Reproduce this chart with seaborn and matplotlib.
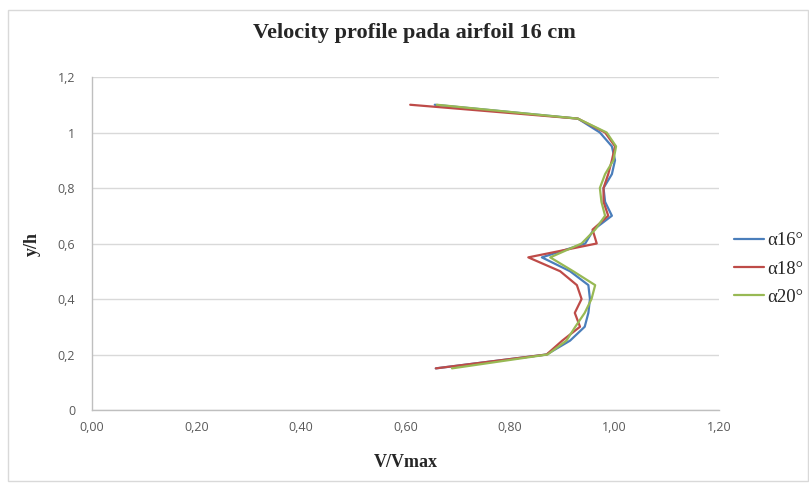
import matplotlib
matplotlib.use('Agg')
import matplotlib.pyplot as plt
from matplotlib.patches import Rectangle
from matplotlib.ticker import FuncFormatter
import seaborn as sns
import pandas as pd

# y/h positions of the measurement points
y_h = [0.15, 0.20, 0.25, 0.30, 0.35, 0.40, 0.45, 0.50, 0.55, 0.60, 0.65,
       0.70, 0.75, 0.80, 0.85, 0.90, 0.95, 1.00, 1.05, 1.10]

# V/Vmax for each angle of attack
v_a16 = [0.658, 0.870, 0.915, 0.943, 0.950, 0.953, 0.950, 0.915, 0.861, 0.944, 0.960,
         0.995, 0.982, 0.979, 0.995, 1.001, 0.995, 0.972, 0.930, 0.656]
v_a18 = [0.658, 0.870, 0.900, 0.934, 0.924, 0.937, 0.928, 0.896, 0.835, 0.966, 0.958,
         0.988, 0.979, 0.979, 0.988, 0.995, 1.001, 0.982, 0.930, 0.609]
v_a20 = [0.689, 0.872, 0.908, 0.925, 0.943, 0.956, 0.963, 0.921, 0.877, 0.937, 0.963,
         0.982, 0.975, 0.972, 0.982, 0.998, 1.003, 0.985, 0.930, 0.660]

labels = ['α16°', 'α18°', 'α20°']
colors = ['#4A7EBB', '#BE4B48', '#98B954']

df = pd.concat([
    pd.DataFrame({'v': v, 'y': y_h, 'angle': lab})
    for v, lab in zip([v_a16, v_a18, v_a20], labels)
])

sns.set_style('white')
fig = plt.figure(figsize=(8.09, 4.87), dpi=100)
ax = fig.add_axes([92 / 809, 1 - 410 / 487, (719 - 92) / 809, (410 - 77) / 487])

sns.lineplot(data=df, x='v', y='y', hue='angle', palette=colors, orient='y',
             estimator=None, linewidth=1.6, ax=ax)

ax.set_xlim(0, 1.2)
ax.set_ylim(0, 1.2)
ax.set_xticks([0, 0.2, 0.4, 0.6, 0.8, 1.0, 1.2])
ax.set_yticks([0, 0.2, 0.4, 0.6, 0.8, 1.0, 1.2])
ax.xaxis.set_major_formatter(FuncFormatter(lambda v, p: f'{v:.2f}'.replace('.', ',')))
ax.yaxis.set_major_formatter(FuncFormatter(lambda v, p: f'{v:g}'.replace('.', ',')))
ax.tick_params(axis='both', length=0, labelsize=9, labelcolor='#595959')
ax.tick_params(axis='x', pad=8)
ax.tick_params(axis='y', pad=12)
for lbl in ax.get_xticklabels() + ax.get_yticklabels():
    lbl.set_family('Open Sans')

ax.yaxis.grid(True, color='#D9D9D9', linewidth=1)
ax.set_axisbelow(True)
for s in ['top', 'right']:
    ax.spines[s].set_visible(False)
for s in ['left', 'bottom']:
    ax.spines[s].set_color('#BFBFBF')
    ax.spines[s].set_linewidth(1)

ax.set_xlabel('V/Vmax', family='Liberation Serif', fontweight='bold', fontsize=13, labelpad=14)
ax.set_ylabel('y/h', family='Liberation Serif', fontweight='bold', fontsize=13, labelpad=12)
fig.text(414 / 809, 1 - 33 / 487, 'Velocity profile pada airfoil 16 cm', ha='center', va='center',
         family='Liberation Serif', fontweight='bold', fontsize=16)

handles, _ = ax.get_legend_handles_labels()
ax.legend(handles, labels, loc='center left', bbox_to_anchor=(726 / 809, 1 - 269 / 487),
          bbox_transform=fig.transFigure, frameon=False, handlelength=1.6, handletextpad=0.2,
          labelspacing=0.6, borderaxespad=0, prop={'family': 'Liberation Serif', 'size': 13.5})

fig.patches.append(Rectangle((8 / 809, 1 - 481 / 487), 800 / 809, 471 / 487, transform=fig.transFigure,
                             fill=False, edgecolor='#D9D9D9', linewidth=1))

fig.savefig('out.png', dpi=100, facecolor='white')
